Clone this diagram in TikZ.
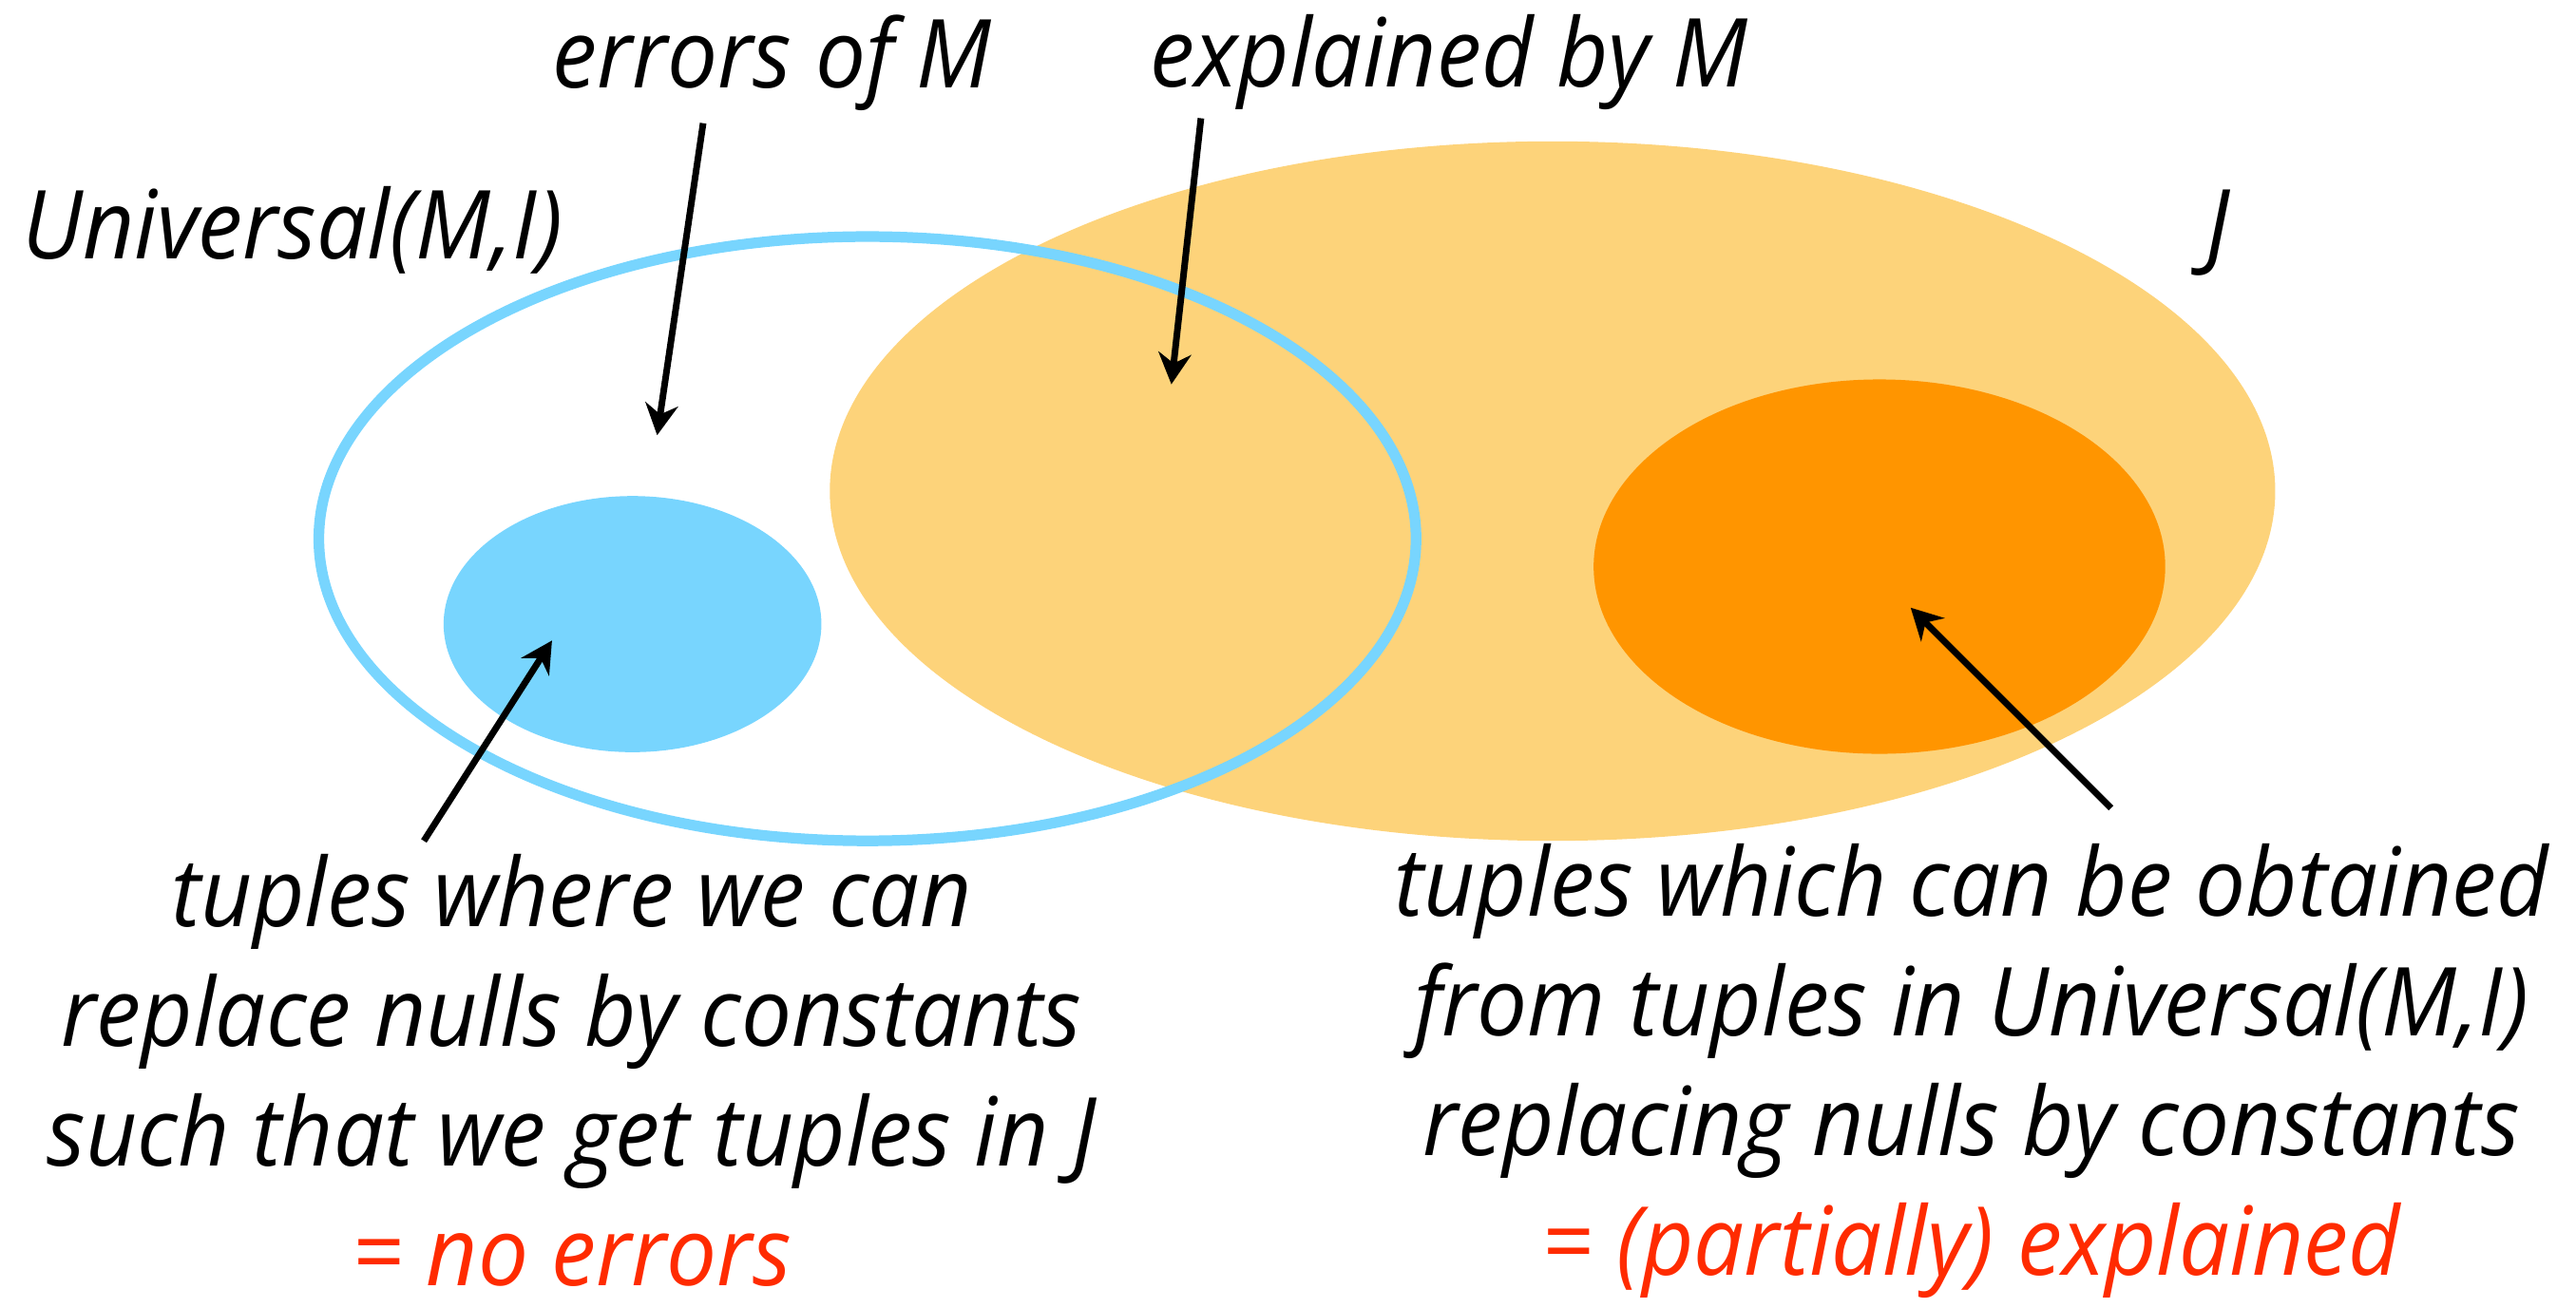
\documentclass[tikz,border=0pt]{standalone}
\usepackage{fontspec}
\usepackage{xcolor}
\usepackage{tikz}
\usetikzlibrary{positioning, arrows.meta, shapes.geometric}
\newfontfamily\slidefont{Open Sans}[FakeStretch=0.94]
\definecolor{JOrange}{HTML}{FDD37A}
\definecolor{UniBlue}{HTML}{78D5FE}
\definecolor{DeepOrange}{HTML}{FF9500}
\definecolor{NoteRed}{HTML}{FF2B00}

\begin{document}
\begin{tikzpicture}[
                x=0.02cm, y=-0.02cm,
                >={Stealth[length=0.38cm, width=0.4cm]},
                blob/.style={ellipse, inner sep=0pt, draw=none},
                pointer/.style={->, line width=0.08cm, black},
                label/.style={font=\slidefont\itshape\fontsize{33}{41.5}\selectfont, inner sep=0pt},
                note/.style={label, align=center}
            ]
                \useasboundingbox (0,0) rectangle (1568,796);

                % Sets
                \node[blob, fill=JOrange, minimum width=17.6cm, minimum height=8.52cm] (J) at (945,299) {};
                \node[blob, fill=DeepOrange, minimum width=6.96cm, minimum height=4.56cm] (expl) at (1144,345) {};
                \node[blob, fill=UniBlue, minimum width=4.6cm, minimum height=3.12cm] (noerr) at (385,380) {};
                \node[blob, draw=UniBlue, line width=0.13cm, minimum width=13.36cm, minimum height=7.36cm] (univ) at (528,328) {};

                % Labels
                \node[label] (errlbl) at (470,38) {errors of M};
                \node[label] (explbl) at (882,38) {explained by M};
                \node[label] (univlbl) at (178,140) {Universal(M,I)};
                \node[label] (jlbl) at (1350,142) {J};

                % Notes
                \node[note] (leftnote) at (348,652) {tuples where we can\\replace nulls by constants\\such that we get tuples in J\\\textcolor{NoteRed}{= no errors}};
                \node[note] (rightnote) at (1200,652) {tuples which can be obtained\\from tuples in Universal(M,I)\\replacing nulls by constants\\\textcolor{NoteRed}{= (partially) explained}};

                % Arrow ends
                \coordinate (errtail) at (428,75);
                \coordinate (errtip) at (400,265);
                \coordinate (exptail) at (731,72);
                \coordinate (exptip) at (713,234);
                \coordinate (noerrtail) at (258,512);
                \coordinate (noerrtip) at (336,390);
                \coordinate (expltail) at (1285,492);
                \coordinate (expltip) at (1163,370);

                % Pointers
                \draw[pointer] (errtail) -- (errtip);
                \draw[pointer] (exptail) -- (exptip);
                \draw[pointer] (noerrtail) -- (noerrtip);
                \draw[pointer] (expltail) -- (expltip);
            \end{tikzpicture}
\end{document}
